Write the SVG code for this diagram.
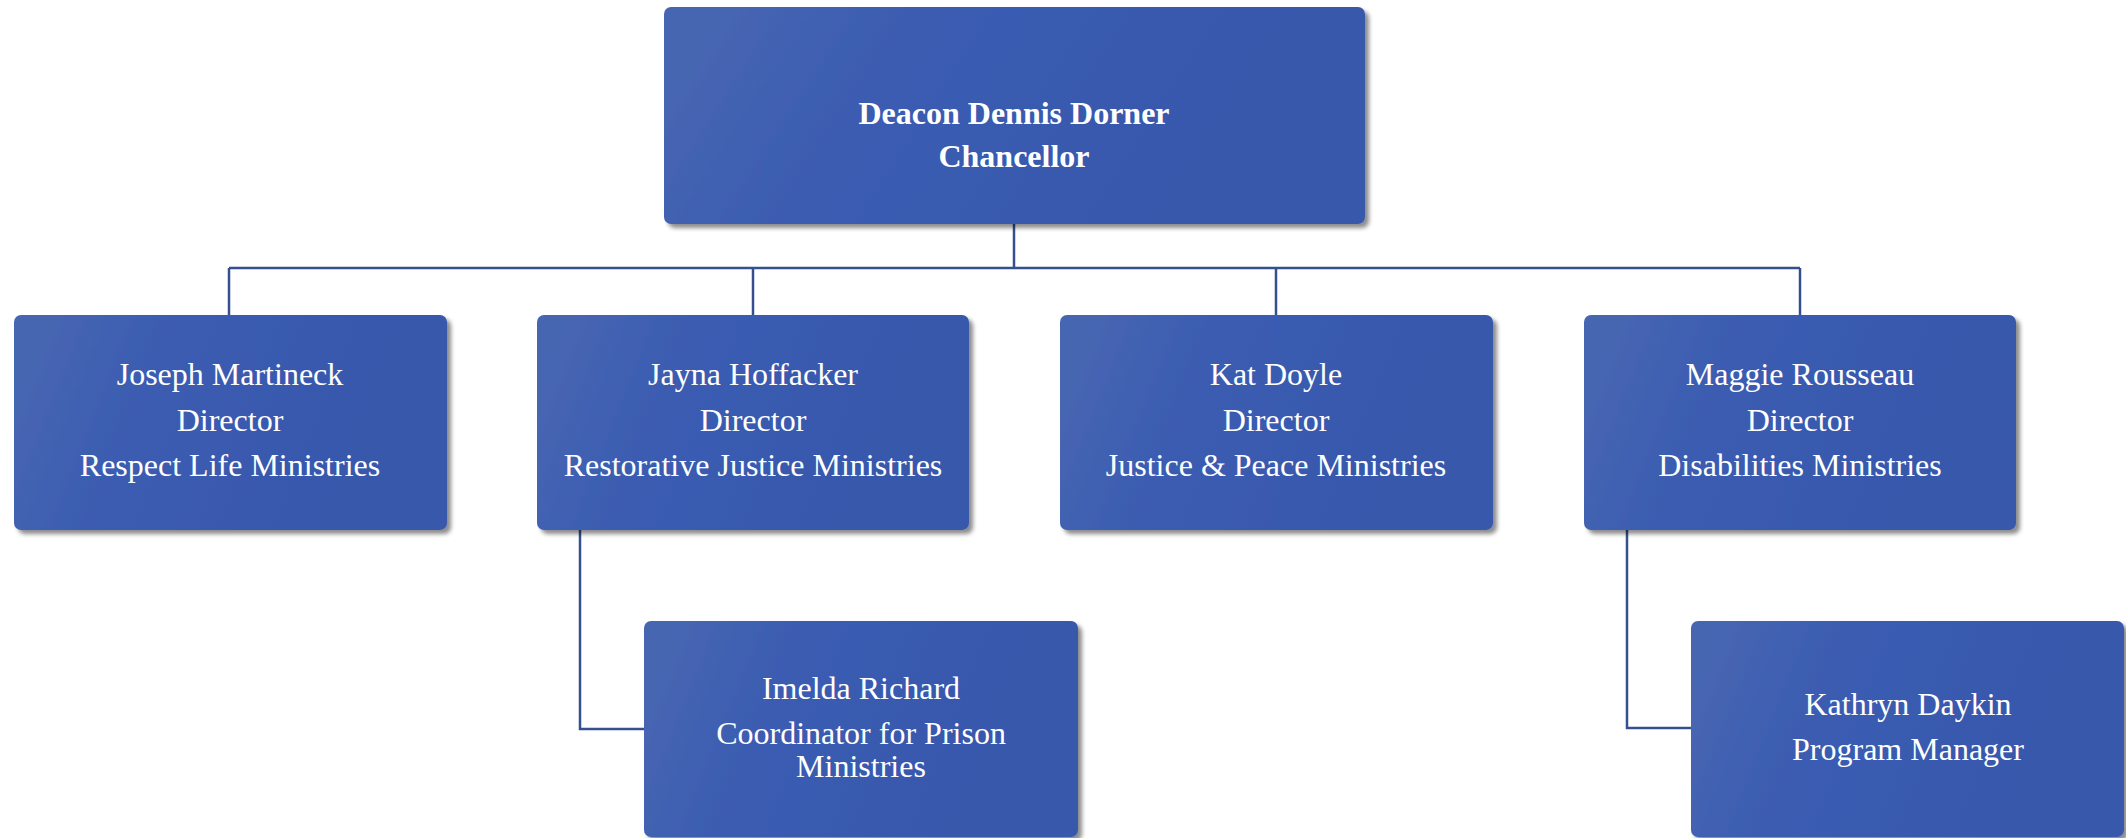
<svg xmlns="http://www.w3.org/2000/svg" width="2126" height="838" viewBox="0 0 2126 838">
<style>
.box{fill:url(#g);filter:url(#sh);}
.t{font-family:"Liberation Serif","Times New Roman",serif;font-size:32px;fill:#ffffff;text-anchor:middle;}
.b{font-weight:bold;font-size:32px;}
.c{fill:none;stroke:#34508f;stroke-width:2.5;}
</style>
<defs>
<linearGradient id="g" x1="0" y1="0.4" x2="1" y2="0.6">
<stop offset="0" stop-color="#4766b2"/>
<stop offset="0.3" stop-color="#3a5bb1"/>
<stop offset="1" stop-color="#3858ab"/>
</linearGradient>
<filter id="sh" x="-5%" y="-5%" width="115%" height="120%">
<feDropShadow dx="4" dy="4" stdDeviation="2" flood-color="#000" flood-opacity="0.45"/>
</filter>
</defs>
<rect width="2126" height="838" fill="#ffffff"/>
<g id="connectors">
<path class="c" d="M1014 224 V268 M229 268 H1800 M229 268 V315 M753 268 V315 M1276 268 V315 M1800 268 V315"/>
<path class="c" d="M580 530 V729 H644"/>
<path class="c" d="M1627 530 V728 H1691"/>
</g>
<g id="n-dorner">
<rect class="box" x="664" y="7" width="701" height="217" rx="7"/>
<text class="t b" x="1014" y="124">Deacon Dennis Dorner</text>
<text class="t b" x="1014" y="167">Chancellor</text>
</g>
<g id="n-martineck">
<rect class="box" x="14" y="315" width="433" height="215" rx="7"/>
<text class="t" x="230" y="385">Joseph Martineck</text>
<text class="t" x="230" y="431">Director</text>
<text class="t" x="230" y="476">Respect Life Ministries</text>
</g>
<g id="n-hoffacker">
<rect class="box" x="537" y="315" width="432" height="215" rx="7"/>
<text class="t" x="753" y="385">Jayna Hoffacker</text>
<text class="t" x="753" y="431">Director</text>
<text class="t" x="753" y="476">Restorative Justice Ministries</text>
</g>
<g id="n-doyle">
<rect class="box" x="1060" y="315" width="433" height="215" rx="7"/>
<text class="t" x="1276" y="385">Kat Doyle</text>
<text class="t" x="1276" y="431">Director</text>
<text class="t" x="1276" y="476">Justice &amp; Peace Ministries</text>
</g>
<g id="n-rousseau">
<rect class="box" x="1584" y="315" width="432" height="215" rx="7"/>
<text class="t" x="1800" y="385">Maggie Rousseau</text>
<text class="t" x="1800" y="431">Director</text>
<text class="t" x="1800" y="476">Disabilities Ministries</text>
</g>
<g id="n-richard">
<rect class="box" x="644" y="621" width="434" height="216" rx="7"/>
<text class="t" x="861" y="699">Imelda Richard</text>
<text class="t" x="861" y="744">Coordinator for Prison</text>
<text class="t" x="861" y="777">Ministries</text>
</g>
<g id="n-daykin">
<rect class="box" x="1691" y="621" width="433" height="216" rx="7"/>
<text class="t" x="1908" y="715">Kathryn Daykin</text>
<text class="t" x="1908" y="760">Program Manager</text>
</g>
</svg>
